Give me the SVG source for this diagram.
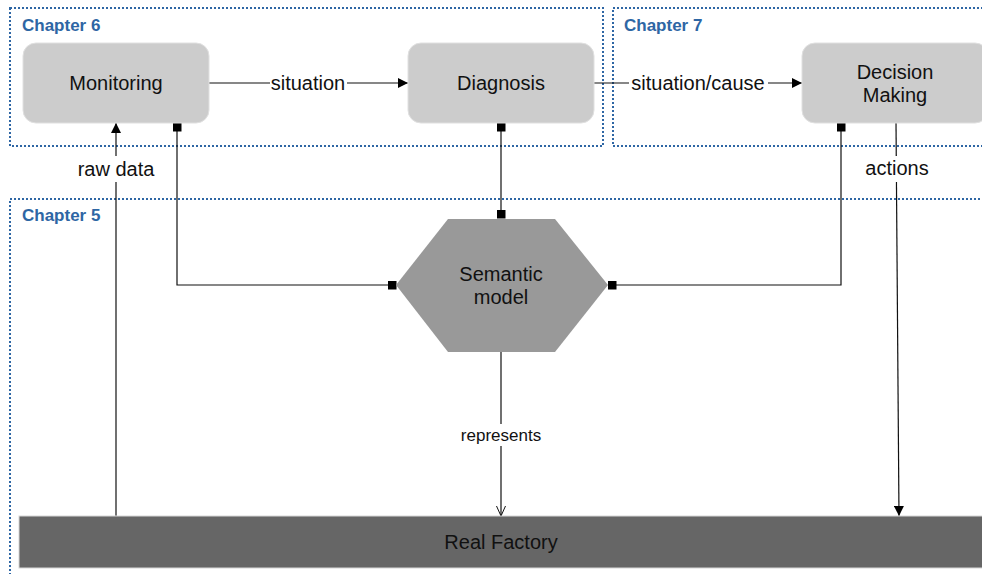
<svg xmlns="http://www.w3.org/2000/svg" width="982" height="574" viewBox="0 0 982 574">
  <style>
    .frame { fill: none; stroke: #2e66a4; stroke-width: 2; stroke-dasharray: 2 2; }
    .chap { font-family: "Liberation Sans", Arial, sans-serif; font-size: 17px; font-weight: bold; fill: #2e66a4; }
    .box { fill: #cccccc; stroke: #e0e0e0; stroke-width: 1; }
    .lbl { font-family: "Liberation Sans", Arial, sans-serif; font-size: 20px; fill: #111; text-anchor: middle; }
    .small { font-size: 17px; }
    .edge { fill: none; stroke: #111; stroke-width: 1.2; }
    .bg { fill: #ffffff; }
  </style>
  <defs>
    <marker id="arrow" viewBox="0 0 10 10" refX="10" refY="5" markerWidth="10" markerHeight="10" markerUnits="userSpaceOnUse" orient="auto">
      <path d="M0,0 L10,5 L0,10 z" fill="#000"/>
    </marker>
    <marker id="open" viewBox="0 0 10 10" refX="10" refY="5" markerWidth="10" markerHeight="10" markerUnits="userSpaceOnUse" orient="auto">
      <path d="M0,0.5 L10,5 L0,9.5" fill="none" stroke="#111" stroke-width="1"/>
    </marker>
    <marker id="sq" viewBox="0 0 10 10" refX="5" refY="5" markerWidth="9" markerHeight="9" markerUnits="userSpaceOnUse" orient="auto">
      <rect x="0" y="0" width="10" height="10" fill="#000"/>
    </marker>
  </defs>

  <rect width="982" height="574" fill="#ffffff"/>

  <!-- chapter frames -->
  <g id="chapter6">
    <rect class="frame" x="10" y="8" width="593" height="138"/>
    <text class="chap" x="22" y="31">Chapter 6</text>
  </g>
  <g id="chapter7">
    <rect class="frame" x="613" y="8" width="380" height="138"/>
    <text class="chap" x="624" y="31">Chapter 7</text>
  </g>
  <g id="chapter5">
    <rect class="frame" x="10" y="199" width="990" height="400"/>
    <text class="chap" x="22" y="221">Chapter 5</text>
  </g>

  <!-- connectors -->
  <g id="connectors">
    <line class="edge" x1="209" y1="83" x2="408" y2="83" marker-end="url(#arrow)"/>
    <line class="edge" x1="594" y1="83" x2="802" y2="83" marker-end="url(#arrow)"/>
    <polyline class="edge" points="177,127 177,285 392,285" marker-start="url(#sq)" marker-end="url(#sq)"/>
    <line class="edge" x1="501" y1="127" x2="501" y2="214" marker-start="url(#sq)" marker-end="url(#sq)"/>
    <polyline class="edge" points="841,127 841,285 612,285" marker-start="url(#sq)" marker-end="url(#sq)"/>
    <line class="edge" x1="116" y1="516" x2="116" y2="123" marker-end="url(#arrow)"/>
    <line class="edge" x1="896" y1="122" x2="899" y2="516" marker-end="url(#arrow)"/>
    <line class="edge" x1="501" y1="352" x2="501" y2="516" marker-end="url(#open)"/>

    <rect class="bg" x="270" y="72" width="77" height="22"/>
    <text class="lbl" x="308" y="90">situation</text>
    <rect class="bg" x="629" y="72" width="139" height="22"/>
    <text class="lbl" x="698" y="90">situation/cause</text>
    <rect class="bg" x="72" y="156" width="88" height="26"/>
    <text class="lbl" x="116" y="176">raw data</text>
    <rect class="bg" x="861" y="156" width="72" height="26"/>
    <text class="lbl" x="897" y="175">actions</text>
    <rect class="bg" x="458" y="424" width="86" height="22"/>
    <text class="lbl small" x="501" y="441">represents</text>
  </g>

  <!-- nodes -->
  <g id="monitoring">
    <rect class="box" x="23" y="43" width="186" height="80" rx="13"/>
    <text class="lbl" x="116" y="90">Monitoring</text>
  </g>
  <g id="diagnosis">
    <rect class="box" x="408" y="43" width="186" height="80" rx="13"/>
    <text class="lbl" x="501" y="90">Diagnosis</text>
  </g>
  <g id="decision-making">
    <rect class="box" x="802" y="43" width="186" height="80" rx="13"/>
    <text class="lbl" x="895" y="79">Decision</text>
    <text class="lbl" x="895" y="102">Making</text>
  </g>
  <g id="semantic-model">
    <polygon points="448,219 555,219 608,285 555,352 448,352 396,285" fill="#999999"/>
    <text class="lbl" x="501" y="281">Semantic</text>
    <text class="lbl" x="501" y="304">model</text>
  </g>
  <g id="real-factory">
    <rect x="19" y="516" width="980" height="52" fill="#666666" stroke="#d8d8d8" stroke-width="1"/>
    <text class="lbl" x="501" y="549">Real Factory</text>
  </g>
</svg>
